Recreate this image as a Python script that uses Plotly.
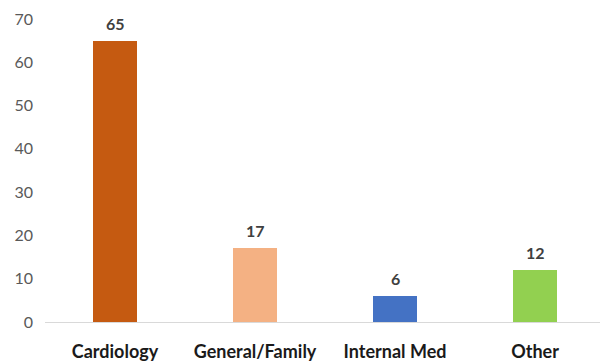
import plotly.graph_objects as go

# Specialty counts
categories = ["Cardiology", "General/Family", "Internal Med", "Other"]
counts = [65, 17, 6, 12]
bar_colors = ["#C55A11", "#F4B183", "#4472C4", "#92D050"]
y_ticks = [0, 10, 20, 30, 40, 50, 60, 70]

fig = go.Figure(
    go.Bar(
        x=categories,
        y=counts,
        marker=dict(color=bar_colors, line=dict(width=0)),
        width=0.315,
        cliponaxis=False,
    )
)

# Value labels above each bar
for cat, val in zip(categories, counts):
    fig.add_annotation(
        x=cat,
        y=val,
        text=str(val),
        showarrow=False,
        yanchor="bottom",
        yshift=6,
        font=dict(family="Lato", size=16, color="#404040", weight="bold"),
    )

fig.update_layout(
    width=600,
    height=362,
    margin=dict(l=45, r=0, t=19, b=36),
    paper_bgcolor="white",
    plot_bgcolor="white",
    showlegend=False,
    bargap=0,
)

fig.update_xaxes(
    range=[-0.5, 3.464],
    showline=True,
    linecolor="#D9D9D9",
    linewidth=1,
    showgrid=False,
    ticks="",
    tickfont=dict(family="Lato", size=18, color="#1a1a1a", weight="bold"),
    ticklabelstandoff=13,
)

fig.update_yaxes(
    range=[0, 70],
    tickvals=y_ticks,
    showgrid=False,
    zeroline=False,
    showline=False,
    ticks="",
    tickfont=dict(family="Lato", size=16, color="#595959"),
    ticklabelstandoff=11,
)

fig.write_html("out.html")
